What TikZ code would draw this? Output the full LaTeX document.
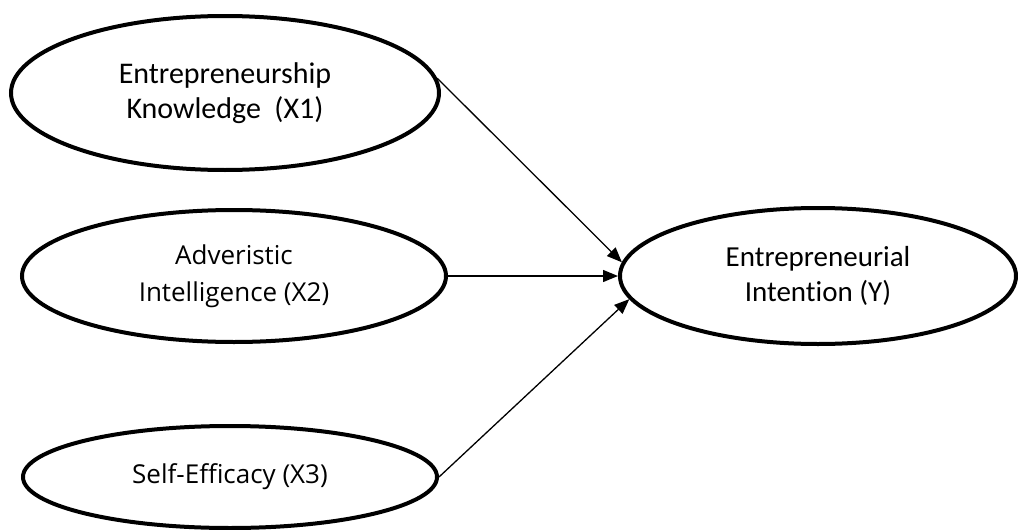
\documentclass[tikz,border=0pt]{standalone}
\usepackage{fontspec}
\setmainfont{Open Sans}
\newfontfamily\calfont[Ligatures=NoCommon]{Carlito}
\usetikzlibrary{shapes.geometric,arrows.meta}
\begin{document}
\begin{tikzpicture}[x=1pt,y=-1pt,
  latent/.style={ellipse, draw, line width=4pt, inner sep=0pt, align=center},
  calt/.style={font=\calfont\fontsize{30}{35}\selectfont},
  ost/.style={font=\fontsize{26}{37}\selectfont},
  pathar/.style={line width=1.3pt, -{Triangle[length=15pt,width=12pt]}}]
\useasboundingbox (0,0) rectangle (1018,530);
\node[latent, calt, minimum width=428pt, minimum height=154pt] (x1) at (225,93) {Entrepreneurship\\Knowledge\ \ (X1)};
\node[latent, ost, minimum width=424pt, minimum height=132pt] (x2) at (234,276) {Adveristic\\Intelligence (X2)};
\node[latent, ost, minimum width=414pt, minimum height=102pt] (x3) at (230,477) {Self-Efficacy (X3)};
\node[latent, calt, font=\calfont\fontsize{29}{35}\selectfont, minimum width=396pt, minimum height=136pt] (y) at (818,276) {Entrepreneurial\\Intention (Y)};
\draw[pathar] (x1.4) -- (y.176);
\draw[pathar] (x2.east) -- (y.west);
\draw[pathar] (x3.east) -- (y.187);
\end{tikzpicture}
\end{document}
